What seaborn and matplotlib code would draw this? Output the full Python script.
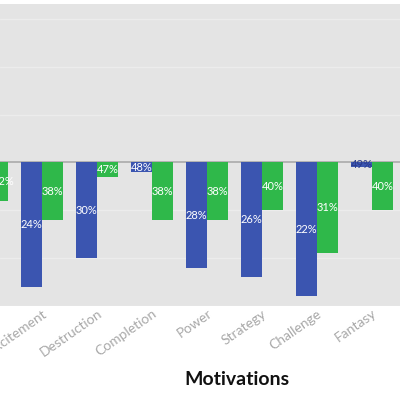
import pandas as pd
import numpy as np
import matplotlib
matplotlib.use("Agg")
import matplotlib.pyplot as plt
import seaborn as sns

# categorias (la primera queda cortada a la izquierda)
motivations = ["Competition", "Excitement", "Destruction", "Completion",
               "Power", "Strategy", "Challenge", "Fantasy"]
blue_vals = [30, 24, 30, 48, 28, 26, 22, 49]
green_vals = [42, 38, 47, 38, 38, 40, 31, 40]
groups = ["A", "B"]

df = pd.DataFrame({
    "Motivation": motivations * 2,
    "group": [groups[0]] * len(motivations) + [groups[1]] * len(motivations),
    "value": blue_vals + green_vals,
})
df["offset"] = df["value"] - 50

sns.set_theme(style="darkgrid")
plt.rcParams["font.family"] = ["Lato", "DejaVu Sans"]

fig = plt.figure(figsize=(4, 4), dpi=100)
ax = fig.add_axes([0, 0.235, 1, 0.755])
ax.set_facecolor("#e4e4e4")

palette = {"A": "#3b55b0", "B": "#2fb84a"}
sns.barplot(data=df, x="Motivation", y="offset", hue="group", palette=palette,
            width=0.75, bottom=50, ax=ax, legend=False, saturation=1,
            linewidth=0)

# etiquetas dentro de las barras
for i, cont in enumerate(ax.containers):
    vals = blue_vals if i == 0 else green_vals
    labels = [f"{v}%" for v in vals]
    txts = ax.bar_label(cont, labels=labels, label_type="center",
                        color="white", fontsize=8)
    if i == 0:
        txts[-1].set_color("#2a3a8a")

ax.axhline(50, color="#aaaaaa", lw=1.2, zorder=0.5)
ax.set_ylim(20.2, 83.1)
ax.set_yticks([20, 30, 40, 60, 70, 80])
ax.grid(axis="y", color="#ececec", lw=1)
ax.grid(axis="x", visible=False)
ax.tick_params(axis="y", left=False, labelleft=False)
ax.set_xlim(0.236, 7.51)
ax.set_ylabel("")

for lab in ax.get_xticklabels():
    lab.set_rotation(35)
    lab.set_ha("right")
    lab.set_rotation_mode("anchor")
    lab.set_color("#a8a8a8")
    lab.set_fontsize(10)
ax.tick_params(axis="x", pad=1, length=0)

ax.set_xlabel("Motivations", fontsize=14, fontweight="bold", color="#111111")
ax.xaxis.set_label_coords(237 / 400, -0.215)

for s in ax.spines.values():
    s.set_visible(False)

fig.savefig("out.png", dpi=100, facecolor="white")
